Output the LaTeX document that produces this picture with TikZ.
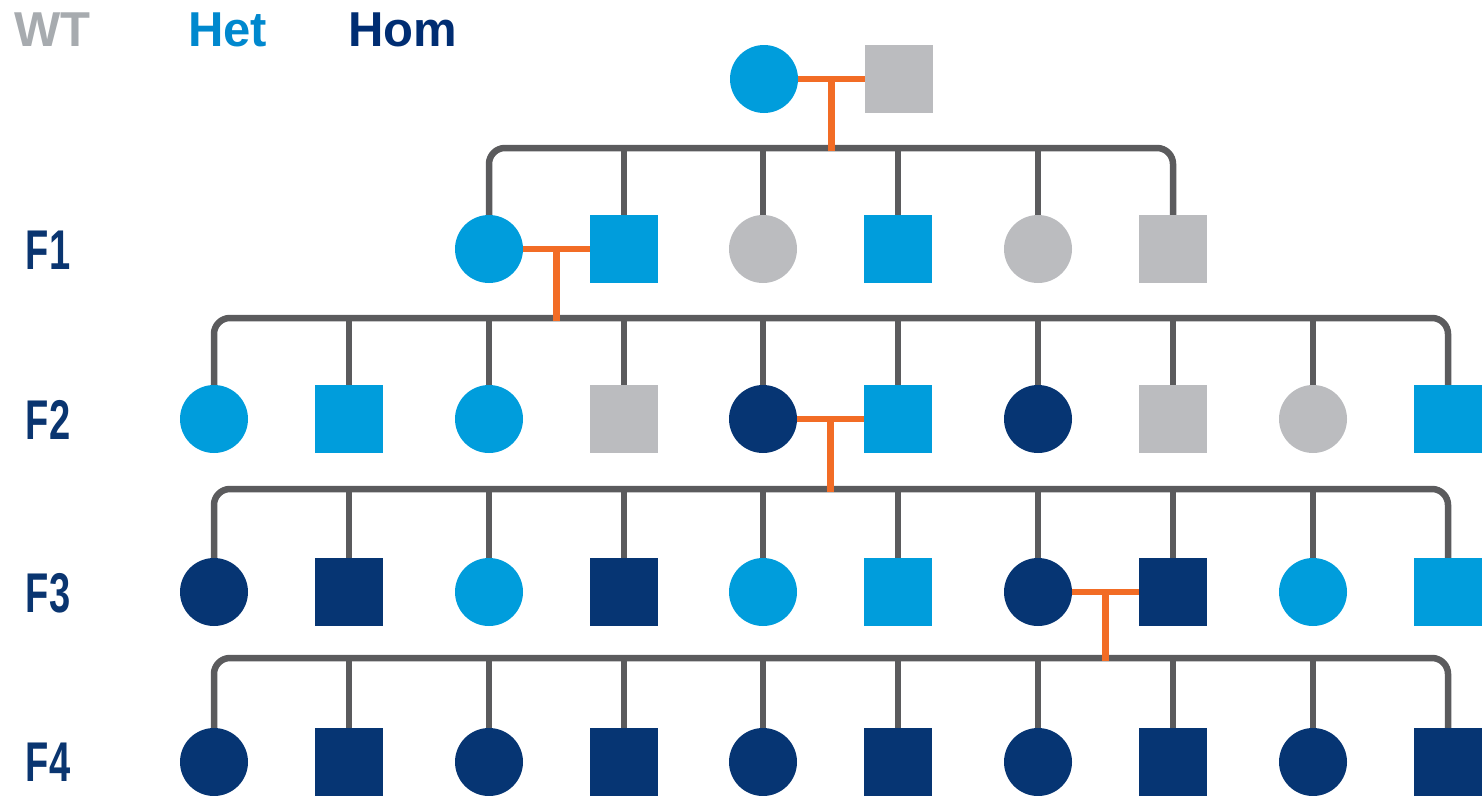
\documentclass[tikz,border=0pt]{standalone}
\usepackage{fontspec}
\setmainfont{Liberation Sans}
\usetikzlibrary{calc,backgrounds}
\definecolor{hetblue}{HTML}{009DDC}
\definecolor{homnavy}{HTML}{063573}
\definecolor{wtgray}{HTML}{BBBCBF}
\definecolor{linegray}{HTML}{5B5B5D}
\definecolor{mateorange}{HTML}{F26C25}
\definecolor{keygray}{HTML}{A7ABAF}
\definecolor{keyblue}{HTML}{0088CE}
\definecolor{keynavy}{HTML}{002D72}
\definecolor{labnavy}{HTML}{0A3570}
\tikzset{
  indiv/.style={inner sep=0pt, outer sep=0pt, minimum size=68pt},
  fem/.style={indiv, circle},
  mal/.style={indiv, rectangle},
  wt/.style={fill=wtgray},
  het/.style={fill=hetblue},
  hom/.style={fill=homnavy},
  kin/.style={draw=linegray, line width=6.5pt, rounded corners=16pt},
  mate/.style={draw=mateorange, line width=6.5pt},
  keytext/.style={font=\fontsize{49}{49}\selectfont\bfseries, inner sep=0pt, anchor=base west},
  genlabel/.style={font=\fontsize{56}{56}\selectfont\bfseries, text=labnavy, inner sep=0pt},
}
\begin{document}
\begin{tikzpicture}[x=1pt, y=-1pt]
\useasboundingbox (0,0) rectangle (1482,795);

% key
\node[keytext, text=keygray] (kwt) at (14,46) {WT};
\node[keytext, text=keyblue] (khet) at (188,46) {Het};
\node[keytext, text=keynavy] (khom) at (348,46) {Hom};

% generation labels
\node[genlabel] (lf1) at (48,250) {\scalebox{0.68}[1]{F1}};
\node[genlabel] (lf2) at (48,420) {\scalebox{0.68}[1]{F2}};
\node[genlabel] (lf3) at (48,593) {\scalebox{0.68}[1]{F3}};
\node[genlabel] (lf4) at (48,762) {\scalebox{0.68}[1]{F4}};

% founders
\node[fem, het] (p1) at (764,79) {};
\node[mal, wt]  (p2) at (899,79) {};

% F1
\foreach \x/\s/\g [count=\i] in {489/fem/het, 624/mal/het, 763/fem/wt, 898/mal/het, 1038/fem/wt, 1173/mal/wt}
  \node[\s, \g] (a\i) at (\x,249) {};

% F2
\foreach \x/\s/\g [count=\i] in {214/fem/het, 349/mal/het, 489/fem/het, 624/mal/wt, 763/fem/hom, 898/mal/het, 1038/fem/hom, 1173/mal/wt, 1313/fem/wt, 1448/mal/het}
  \node[\s, \g] (b\i) at (\x,419) {};

% F3
\foreach \x/\s/\g [count=\i] in {214/fem/hom, 349/mal/hom, 489/fem/het, 624/mal/hom, 763/fem/het, 898/mal/het, 1038/fem/hom, 1173/mal/hom, 1313/fem/het, 1448/mal/het}
  \node[\s, \g] (c\i) at (\x,592) {};

% F4
\foreach \x/\s/\g [count=\i] in {214/fem/hom, 349/mal/hom, 489/fem/hom, 624/mal/hom, 763/fem/hom, 898/mal/hom, 1038/fem/hom, 1173/mal/hom, 1313/fem/hom, 1448/mal/hom}
  \node[\s, \g] (d\i) at (\x,762) {};

% drop points of the matings onto the sibship lines
\coordinate (m0) at ($(p1.east)!0.5!(p2.west)$);
\coordinate (m1) at ($(a1.east)!0.5!(a2.west)$);
\coordinate (m2) at ($(b5.east)!0.5!(b6.west)$);
\coordinate (m3) at ($(c7.east)!0.5!(c8.west)$);
\coordinate (s0) at ($(m0) + (0,69)$);
\coordinate (s1) at ($(m1) + (0,69)$);
\coordinate (s2) at ($(m2) + (0,70)$);
\coordinate (s3) at ($(m3) + (0,66)$);

\begin{scope}[on background layer]
% sibship lines
\draw[kin] (a1.north) |- (s0) -| (a6.north);
\foreach \i in {2,...,5} \draw[kin] (s0 -| a\i.north) -- (a\i.north);

\draw[kin] (b1.north) |- (s1) -| (b10.north);
\foreach \i in {2,...,9} \draw[kin] (s1 -| b\i.north) -- (b\i.north);

\draw[kin] (c1.north) |- (s2) -| (c10.north);
\foreach \i in {2,...,9} \draw[kin] (s2 -| c\i.north) -- (c\i.north);

\draw[kin] (d1.north) |- (s3) -| (d10.north);
\foreach \i in {2,...,9} \draw[kin] (s3 -| d\i.north) -- (d\i.north);

% matings
\draw[mate] (p1.east) -- (p2.west);
\draw[mate] (m0) -- ([yshift=-3.25pt]s0);
\draw[mate] (a1.east) -- (a2.west);
\draw[mate] (m1) -- ([yshift=-3.25pt]s1);
\draw[mate] (b5.east) -- (b6.west);
\draw[mate] (m2) -- ([yshift=-3.25pt]s2);
\draw[mate] (c7.east) -- (c8.west);
\draw[mate] (m3) -- ([yshift=-3.25pt]s3);
\end{scope}
\end{tikzpicture}
\end{document}
